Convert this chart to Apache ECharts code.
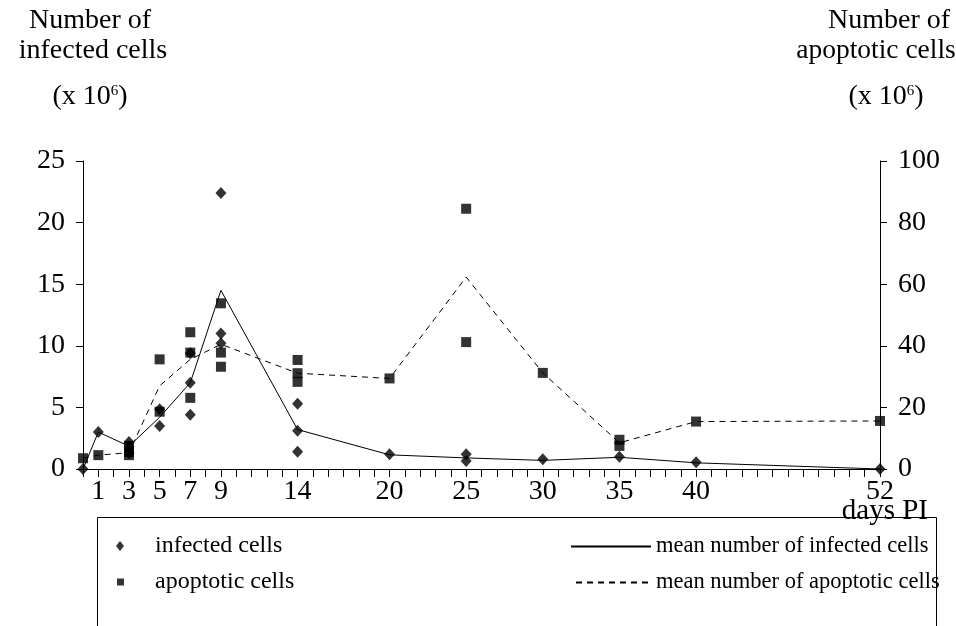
<!DOCTYPE html>
<html><head><meta charset="utf-8">
<script src="https://cdn.jsdelivr.net/npm/echarts@6/dist/echarts.min.js"></script>
<style>html,body{margin:0;padding:0;background:#fff}#c{width:956px;height:626px}</style>
</head><body><div id="c"></div>
<script>
// Days post infection
const days = [0, 1, 3, 5, 7, 9, 14, 20, 25, 30, 35, 40, 52];
const meanInfected = [0, 3.0, 1.85, 4.2, 7.0, 14.5, 3.2, 1.15, 0.9, 0.7, 0.95, 0.5, 0];
const meanApoptotic = [3.5, 4.5, 5.3, 27.0, 35.6, 40.5, 31.1, 29.4, 62.3, 31.2, 8.5, 15.4, 15.6];

const infectedDays   = [0, 1, 3, 3, 3, 5, 5, 7, 7, 7, 9, 9, 9, 14, 14, 14, 20, 25, 25, 30, 35, 40, 52];
const infectedValues = [0, 3.0, 2.2, 1.8, 1.3, 4.85, 3.5, 7.0, 9.4, 4.4, 22.4, 11.0, 10.2, 5.3, 3.1, 1.4, 1.2, 1.2, 0.65, 0.8, 1.0, 0.55, 0];

const apoptoticDays   = [0, 1, 3, 3, 3, 5, 5, 7, 7, 7, 9, 9, 9, 14, 14, 14, 20, 25, 25, 30, 35, 35, 40, 52];
const apoptoticValues = [3.5, 4.5, 7.5, 5.5, 4.5, 35.6, 18.6, 44.4, 37.8, 23.1, 53.8, 37.8, 33.2, 35.4, 31.1, 28.3, 29.4, 84.5, 41.2, 31.2, 9.5, 7.5, 15.4, 15.6];

const xTickLabels = [1, 3, 5, 7, 9, 14, 20, 25, 30, 35, 40, 52];

const FONT = 'Liberation Serif';
const zip = (a, b) => a.map((v, i) => [v, b[i]]);

const chart = echarts.init(document.getElementById('c'), null, {renderer: 'canvas'});

const titleText = (text, x, y, fs) => ({
  type: 'text', x: x, y: y,
  style: {
    text: text, textAlign: 'center', textVerticalAlign: 'top',
    fontSize: fs, fontFamily: FONT, fill: '#000',
    rich: {
      n: {fontSize: fs, fontFamily: FONT, lineHeight: 30, fill: '#000'},
      s: {fontSize: 15, fontFamily: FONT, lineHeight: 30, verticalAlign: 'top', padding: [2, 0, 0, 0], fill: '#000'}
    }
  },
  silent: true
});

const legendText = fs => ({fontSize: fs, fontFamily: FONT, color: '#000'});

chart.setOption({
  animation: false,
  backgroundColor: '#fff',
  grid: {left: 83, right: 76, top: 161, bottom: 157, containLabel: false},
  xAxis: {
    type: 'value', min: 0, max: 52, interval: 1,
    axisLine: {lineStyle: {color: '#000', width: 1}},
    axisTick: {show: true, length: 8, lineStyle: {color: '#000'}},
    splitLine: {show: false},
    axisLabel: {
      margin: 9, fontSize: 28, fontFamily: FONT, color: '#000',
      formatter: v => xTickLabels.indexOf(v) >= 0 ? String(v) : ''
    }
  },
  yAxis: [
    {
      type: 'value', min: 0, max: 25, interval: 5, position: 'left',
      axisLine: {show: true, lineStyle: {color: '#000', width: 1}},
      axisTick: {show: true, length: 7, lineStyle: {color: '#000'}},
      splitLine: {show: false},
      axisLabel: {margin: 18, fontSize: 28, fontFamily: FONT, color: '#000'}
    },
    {
      type: 'value', min: 0, max: 100, interval: 20, position: 'right',
      axisLine: {show: true, lineStyle: {color: '#000', width: 1}},
      axisTick: {show: true, length: 7, lineStyle: {color: '#000'}},
      splitLine: {show: false},
      axisLabel: {margin: 18, fontSize: 28, fontFamily: FONT, color: '#000'}
    }
  ],
  legend: [
    {data: ['infected cells'], left: 116, top: 534, padding: 0, icon: 'diamond', itemWidth: 8, itemHeight: 10,
     selectedMode: false, textStyle: Object.assign({padding: [0, 0, 0, 26]}, legendText(24))},
    {data: ['apoptotic cells'], left: 117, top: 570, padding: 0, icon: 'rect', itemWidth: 7, itemHeight: 7,
     selectedMode: false, textStyle: Object.assign({padding: [0, 0, 0, 26]}, legendText(24))},
    {data: ['mean number of infected cells'], left: 570, top: 535, padding: 0, itemWidth: 80, itemHeight: 12,
     itemStyle: {opacity: 0}, selectedMode: false, textStyle: legendText(22.5)},
    {data: ['mean number of apoptotic cells'], left: 575, top: 571, padding: 0, itemWidth: 75, itemHeight: 12,
     itemStyle: {opacity: 0}, selectedMode: false, textStyle: legendText(22.5)}
  ],
  graphic: [
    {type: 'rect', shape: {x: 97.5, y: 517.5, width: 839, height: 200}, style: {fill: 'none', stroke: '#000', lineWidth: 1}, z: -1, silent: true},
    {type: 'text', x: 928, y: 497, style: {text: 'days PI', textAlign: 'right', textVerticalAlign: 'top', fontSize: 29, fontFamily: FONT, fill: '#000'}, silent: true},
    titleText('{n|Number of}', 90, 6, 28),
    titleText('{n|infected cells}', 93, 36, 28),
    titleText('{n|(x 10}{s|6}{n|)}', 90, 82, 28),
    titleText('{n|Number of}', 889, 6, 28),
    titleText('{n|apoptotic cells}', 876, 36, 27.5),
    titleText('{n|(x 10}{s|6}{n|)}', 886, 82, 28)
  ],
  series: [
    {name: 'mean number of infected cells', type: 'line', data: zip(days, meanInfected), symbol: 'none',
     lineStyle: {color: '#000', width: 1}, itemStyle: {color: '#000'}, z: 2},
    {name: 'mean number of apoptotic cells', type: 'line', yAxisIndex: 1, data: zip(days, meanApoptotic), symbol: 'none',
     lineStyle: {color: '#000', width: 1, type: [6, 5]}, itemStyle: {color: '#000'}, z: 2},
    {name: 'infected cells', type: 'scatter', symbol: 'diamond', symbolSize: [11, 12],
     data: zip(infectedDays, infectedValues), itemStyle: {color: '#000'}, z: 3},
    {name: 'apoptotic cells', type: 'scatter', symbol: 'rect', symbolSize: 10, yAxisIndex: 1,
     data: zip(apoptoticDays, apoptoticValues), itemStyle: {color: '#000'}, z: 3}
  ]
});
</script></body></html>
